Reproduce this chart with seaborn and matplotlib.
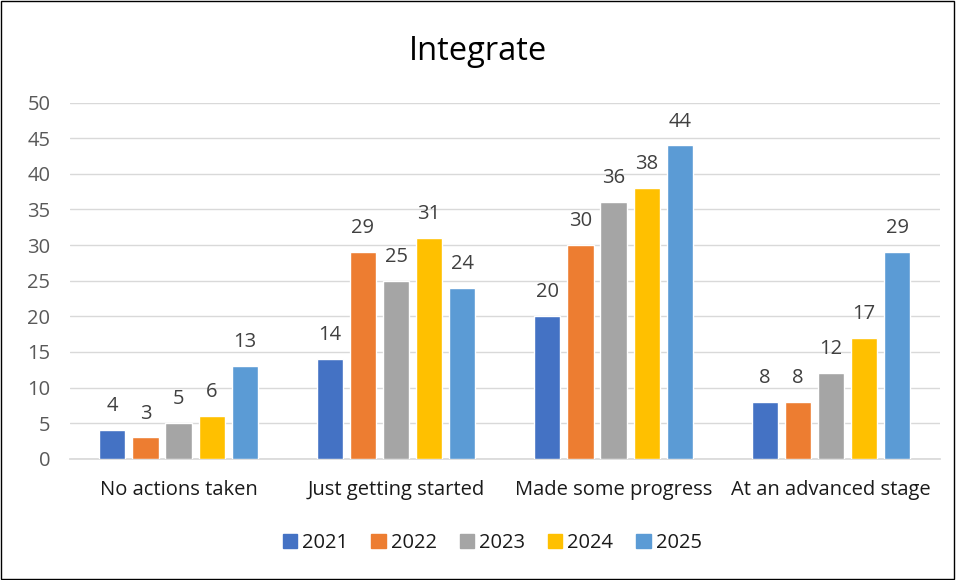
import pandas as pd
import matplotlib.pyplot as plt
import seaborn as sns
from matplotlib.patches import Rectangle

# Data
categories = ["No actions taken", "Just getting started", "Made some progress", "At an advanced stage"]
years = ["2021", "2022", "2023", "2024", "2025"]
v2021 = [4, 14, 20, 8]
v2022 = [3, 29, 30, 8]
v2023 = [5, 25, 36, 12]
v2024 = [6, 31, 38, 17]
v2025 = [13, 24, 44, 29]
colors = ["#4472C4", "#ED7D31", "#A5A5A5", "#FFC000", "#5B9BD5"]

rows = []
for yr, vals in zip(years, [v2021, v2022, v2023, v2024, v2025]):
    for cat, v in zip(categories, vals):
        rows.append({"Category": cat, "Year": yr, "Value": v})
df = pd.DataFrame(rows)

sns.set_theme(style="white")
plt.rcParams['font.family'] = ['Open Sans', 'DejaVu Sans']

fig = plt.figure(figsize=(9.56, 5.8), dpi=100)
ax = fig.add_axes([0.073, 0.209, 0.910, 0.614])

sns.barplot(data=df, x="Category", y="Value", hue="Year", order=categories,
            hue_order=years, palette=colors, width=0.76, gap=0.21,
            saturation=1, errorbar=None, ax=ax, zorder=3)

for c in ax.containers:
    ax.bar_label(c, padding=10, fontsize=14.5, color="#404040")

ax.set_ylim(0, 50)
ax.set_xlim(-0.5, 3.5)
ax.set_yticks(range(0, 51, 5))
ax.yaxis.grid(True, color="#D9D9D9", linewidth=1, zorder=0)
ax.set_xlabel("")
ax.set_ylabel("")
for s in ["top", "right", "left"]:
    ax.spines[s].set_visible(False)
ax.spines["bottom"].set_color("#D9D9D9")
ax.tick_params(axis="both", length=0, labelsize=14.5)
ax.tick_params(axis="x", pad=15, labelcolor="#1a1a1a")
ax.tick_params(axis="y", pad=14, labelcolor="#595959")

ax.get_legend().remove()
handles = [plt.Rectangle((0, 0), 1, 1, color=c) for c in colors]
fig.legend(handles, years, loc="center", bbox_to_anchor=(0.515, 0.064), ncol=5,
           frameon=False, fontsize=14.5, handlelength=0.7, handleheight=0.7,
           handletextpad=0.25, columnspacing=1.15, labelcolor="#1a1a1a")

fig.suptitle("Integrate", y=0.94, fontsize=23.5, color="#000000")
fig.patches.append(Rectangle((0.001, 0.001), 0.997, 0.997, transform=fig.transFigure,
                             fill=False, edgecolor="black", linewidth=1))

plt.savefig("out.png", dpi=100)
